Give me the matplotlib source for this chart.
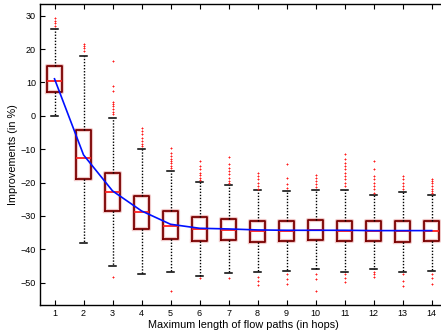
import matplotlib
matplotlib.use("Agg")
import matplotlib.pyplot as plt
import matplotlib.patheffects as pe
import numpy as np

plt.rcParams['font.family'] = ['Liberation Sans', 'DejaVu Sans']
plt.rcParams['axes.unicode_minus'] = True

# hop counts
hops = list(range(1, 15))

# box statistics (in %)
q1 = [7.0, -19.0, -28.4, -33.9, -36.8, -37.6, -37.3, -37.7, -37.6, -37.1, -37.5, -37.5, -37.7, -37.6]
med = [10.5, -12.7, -22.8, -28.8, -33.0, -33.8, -34.2, -34.5, -34.5, -34.3, -34.4, -34.6, -34.6, -34.4]
q3 = [15.0, -4.3, -17.1, -24.0, -28.6, -30.3, -30.8, -31.4, -31.4, -31.2, -31.4, -31.5, -31.5, -31.5]
whislo = [0.0, -38.0, -45.0, -47.4, -46.7, -48.0, -47.2, -46.7, -46.4, -45.8, -46.9, -46.0, -46.7, -46.4]
whishi = [26.0, 17.9, -0.5, -9.8, -16.6, -19.9, -20.7, -22.3, -22.4, -22.3, -22.2, -23.7, -22.7, -23.6]

# mean improvement (blue line)
means = [11.1, -11.7, -22.5, -28.5, -32.5, -33.7, -33.9, -34.2, -34.3, -34.3, -34.3, -34.4, -34.4, -34.4]

# outliers per hop count
fliers = [
    [27.0, 27.8, 28.5, 29.3],
    [19.5, 20.2, 20.8, 21.5],
    [16.5, 8.9, 7.5, 4.2, 3.5, 2.8, 2.0, 1.2, 0.5, -48.2],
    [-3.5, -4.5, -5.5, -6.5, -7.5, -8.5, -9.0],
    [-9.6, -11.0, -12.0, -12.8, -13.5, -14.2, -15.0, -15.6, -52.5],
    [-13.5, -15.0, -16.0, -17.0, -17.8, -18.5, -19.2, -48.6],
    [-12.2, -14.5, -15.5, -16.5, -17.5, -18.5, -19.5, -20.2, -48.5],
    [-17.0, -18.0, -19.0, -20.0, -21.0, -21.8, -48.2, -49.5, -50.8],
    [-14.3, -18.5, -20.5, -21.5, -47.5, -49.0, -50.4],
    [-17.7, -18.5, -19.5, -20.5, -21.3, -47.5, -49.0, -52.5],
    [-11.4, -13.0, -14.0, -15.0, -16.0, -17.0, -18.0, -19.0, -20.0, -21.0, -47.5, -48.5, -49.7],
    [-13.5, -16.0, -18.0, -19.0, -20.0, -21.0, -22.0, -23.0, -46.8, -47.5, -48.4],
    [-18.0, -19.0, -20.0, -21.0, -22.0, -47.5, -49.5, -50.9],
    [-18.8, -19.5, -20.2, -21.0, -21.8, -22.5, -23.0, -47.5, -48.5, -50.4],
]

stats = []
for i in range(len(hops)):
    stats.append(dict(med=med[i], q1=q1[i], q3=q3[i], whislo=whislo[i],
                      whishi=whishi[i], fliers=fliers[i]))

fig = plt.figure(figsize=(4.41, 3.34), dpi=100)
ax = fig.add_axes([0.0907, 0.0868, 0.921, 0.900])

# light pink halo round the dark red boxes
halo = [pe.Stroke(linewidth=3.0, foreground='#f0c8c8'), pe.Normal()]
ax.bxp(stats, positions=hops, widths=0.5, showfliers=True,
       boxprops=dict(color='#7a0000', linewidth=1.3, path_effects=halo),
       medianprops=dict(color='#ff2020', linewidth=1.3),
       whiskerprops=dict(color='black', linestyle=(0, (1, 1.2)), linewidth=1.0),
       capprops=dict(color='black', linewidth=1.1),
       capwidths=0.25,
       flierprops=dict(marker='+', markeredgecolor='#ff1a1a', markersize=2.0,
                       markeredgewidth=0.7, linestyle='none'))

ax.plot(hops, means, color='#0010ff', linewidth=1.2, zorder=5)

ax.set_xlim(0.5, 14.5)
ax.set_ylim(-56.7, 33.4)
ax.set_xticks(hops)
ax.set_xticklabels([str(h) for h in hops])
ax.set_yticks(np.arange(-50, 31, 10))
ax.tick_params(direction='in', length=3.5, width=0.8, labelsize=6.5,
               top=True, right=True, pad=3)
for s in ax.spines.values():
    s.set_linewidth(1.0)

ax.set_xlabel('Maximum length of flow paths (in hops)', fontsize=7.8, labelpad=1)
ax.set_ylabel('Improvements (in %)', fontsize=7.8, labelpad=2)

fig.savefig('out.png', dpi=100)
